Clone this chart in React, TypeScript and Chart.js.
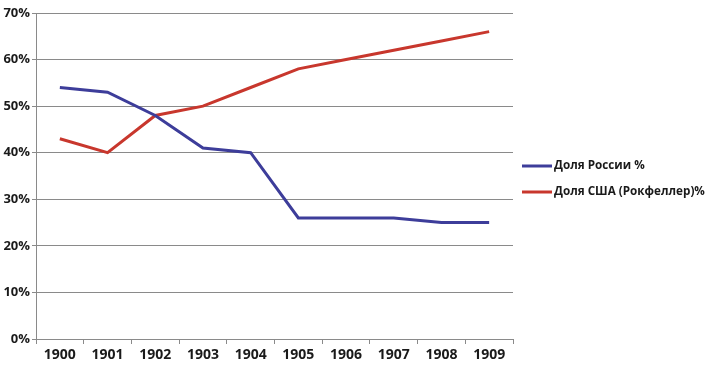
import React, { useEffect, useRef } from "react";
import { Chart, registerables } from "chart.js";

Chart.register(...registerables);

const years = ["1900", "1901", "1902", "1903", "1904", "1905", "1906", "1907", "1908", "1909"];
const russiaShare = [54, 53, 48, 41, 40, 26, 26, 26, 25, 25];
const usaShare = [43, 40, 48, 50, 54, 58, 60, 62, 64, 66];
const seriesLabels = ["Доля России %", "Доля США (Рокфеллер)%"];
const seriesColors = ["#3d3d9a", "#c8372d"];

const FONT = "'Open Sans', 'Noto Sans', sans-serif";

const legendPlugin = {
  id: "sideLegend",
  afterDraw(chart: any) {
    const ctx = chart.ctx;
    const area = chart.chartArea;
    const x0 = area.right + 9;
    const ys = [166, 192];
    ctx.save();
    chart.data.datasets.forEach((ds: any, i: number) => {
      const y = ys[i];
      ctx.strokeStyle = ds.borderColor;
      ctx.lineWidth = 3;
      ctx.beginPath();
      ctx.moveTo(x0, y);
      ctx.lineTo(x0 + 30, y);
      ctx.stroke();
      ctx.fillStyle = "#1a1a1a";
      ctx.font = `700 11.7px ${FONT}`;
      ctx.textBaseline = "middle";
      ctx.textAlign = "left";
      ctx.fillText(ds.label, x0 + 32, y);
    });
    ctx.restore();
  },
};

export default function App() {
  const ref = useRef<HTMLCanvasElement | null>(null);
  useEffect(() => {
    if (!ref.current) return;
    const chart = new Chart(ref.current, {
      type: "line",
      data: {
        labels: years,
        datasets: [
          {
            label: seriesLabels[0],
            data: russiaShare,
            borderColor: seriesColors[0],
            backgroundColor: seriesColors[0],
            borderWidth: 3,
            pointRadius: 0,
            tension: 0,
          },
          {
            label: seriesLabels[1],
            data: usaShare,
            borderColor: seriesColors[1],
            backgroundColor: seriesColors[1],
            borderWidth: 3,
            pointRadius: 0,
            tension: 0,
          },
        ],
      },
      options: {
        responsive: false,
        animation: false,
        layout: { padding: { top: 13, right: 202, left: 0, bottom: 0 } },
        plugins: { legend: { display: false }, tooltip: { enabled: false } },
        scales: {
          x: {
            offset: true,
            afterFit(scale: any) {
              scale.height = 29;
            },
            grid: {
              display: true,
              drawOnChartArea: false,
              drawTicks: true,
              tickLength: 5,
              offset: true,
              color: "#8a8a8a",
            },
            border: { display: true, color: "#8a8a8a", width: 1 },
            ticks: {
              color: "#1a1a1a",
              font: { family: FONT, size: 14, weight: "700" },
              padding: 3,
              maxRotation: 0,
            },
          },
          y: {
            min: 0,
            max: 70,
            afterFit(scale: any) {
              scale.width = 36;
            },
            grid: {
              color: "#8a8a8a",
              drawTicks: true,
              tickLength: 4,
            },
            border: { display: true, color: "#8a8a8a", width: 1 },
            ticks: {
              stepSize: 10,
              color: "#1a1a1a",
              padding: 2,
              font: { family: FONT, size: 13, weight: "700" },
              callback: (v: any) => `${v}%`,
            },
          },
        },
      },
      plugins: [legendPlugin],
    });
    return () => chart.destroy();
  }, []);
  return (
    <div style={{ position: "fixed", left: 0, top: 0, width: 715, height: 368, background: "#fff" }}>
      <canvas ref={ref} width={715} height={368} />
    </div>
  );
}
